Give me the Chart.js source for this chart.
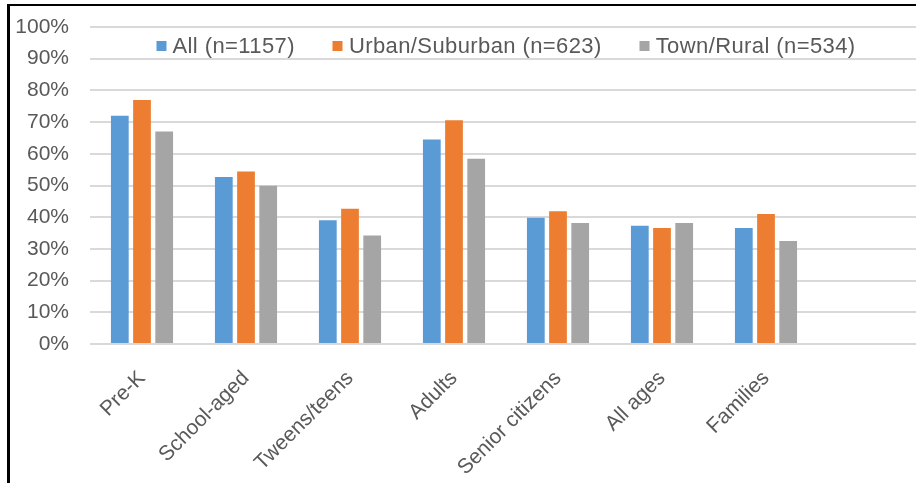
<!DOCTYPE html>
<html><head><meta charset="utf-8">
<script src="https://cdn.jsdelivr.net/npm/chart.js@4/dist/chart.umd.min.js"></script>
<style>
html,body{margin:0;padding:0;background:#fff;overflow:hidden;width:916px;height:483px;}
#wrap{position:absolute;left:0;top:0;width:940px;height:483px;}
#frameL{position:absolute;left:7px;top:4px;width:3px;height:479px;background:#000;}
#frameT{position:absolute;left:7px;top:4px;width:909px;height:2px;background:#000;}
#legend{position:absolute;top:33px;left:506px;transform:translateX(-50%);display:flex;align-items:center;
  font-family:"Liberation Sans",Arial,sans-serif;font-size:22px;letter-spacing:0.4px;color:#595959;white-space:nowrap;}
#legend .item{display:flex;align-items:center;margin:0 19px;}
#legend .sw{width:10px;height:10px;margin-right:6px;}
</style></head>
<body>
<div id="wrap"><canvas id="c" width="940" height="483"></canvas></div>
<div id="legend"></div>
<div id="frameL"></div><div id="frameT"></div>
<script>
const categories = ['Pre-K','School-aged','Tweens/teens','Adults','Senior citizens','All ages','Families',''];
const seriesNames = ['All (n=1157)','Urban/Suburban (n=623)','Town/Rural (n=534)'];
const allValues   = [72, 52.7, 39, 64.5, 39.8, 37.3, 36.6, null];
const urbanValues = [77, 54.4, 42.7, 70.6, 41.9, 36.6, 41, null];
const townValues  = [67, 49.9, 34.2, 58.4, 38.2, 38.2, 32.5, null];
const yTicks = [0,10,20,30,40,50,60,70,80,90,100];
const colors = ['#5B9BD5','#ED7D31','#A5A5A5'];

const FONT = '"Liberation Sans", Arial, sans-serif';
const series = [allValues, urbanValues, townValues];

const leg = document.getElementById('legend');
seriesNames.forEach((n,i)=>{
  const it = document.createElement('div'); it.className='item';
  const sw = document.createElement('span'); sw.className='sw'; sw.style.background=colors[i];
  const tx = document.createElement('span'); tx.textContent=n;
  it.appendChild(sw); it.appendChild(tx); leg.appendChild(it);
});

new Chart(document.getElementById('c'), {
  type:'bar',
  data:{
    labels: categories,
    datasets: series.map((d,i)=>({label:seriesNames[i], data:d, backgroundColor:colors[i], borderWidth:0}))
  },
  options:{
    responsive:false, animation:false,
    layout:{padding:{left:0,right:18,top:27,bottom:0}},
    plugins:{legend:{display:false}, tooltip:{enabled:false}},
    datasets:{bar:{categoryPercentage:0.64, barPercentage:0.8}},
    scales:{
      x:{
        grid:{display:false, drawTicks:false}, border:{display:false},
        ticks:{minRotation:45, maxRotation:45, autoSkip:false, color:'#595959', padding:22, font:{family:FONT, size:21}},
        afterFit(s){ s.height = 139; }
      },
      y:{
        min:0, max:100,
        afterBuildTicks(s){ s.ticks = yTicks.map(v=>({value:v})); },
        ticks:{callback:v=>v+'%', padding:21, color:'#595959', font:{family:FONT, size:21}},
        grid:{color:'#D9D9D9', lineWidth:2, drawTicks:false}, border:{display:false},
        afterFit(s){ s.width = 90; s.paddingTop = 5; s.paddingBottom = 5; }
      }
    }
  }
});
</script>
</body></html>
